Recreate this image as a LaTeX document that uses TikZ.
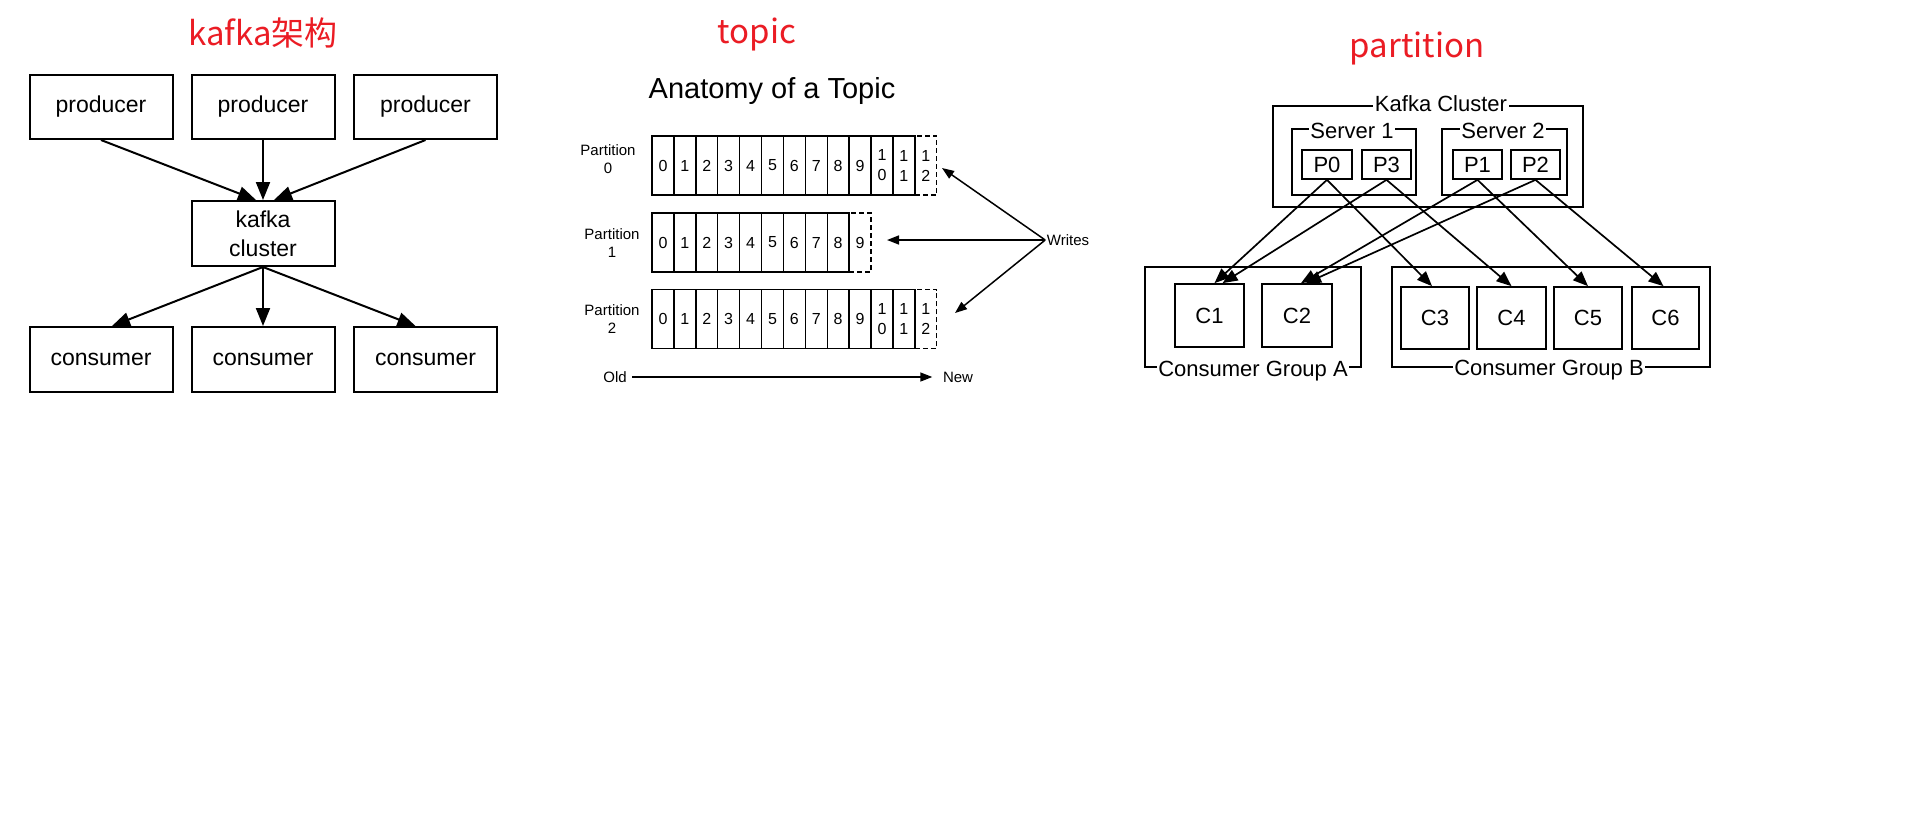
\documentclass[tikz,border=0pt]{standalone}
\usepackage{fontspec}
\setmainfont{Liberation Sans}
\newfontfamily\cjk{Noto Sans CJK SC}
\usetikzlibrary{arrows.meta}
\definecolor{titlered}{RGB}{235,28,36}
\begin{document}
\begin{tikzpicture}[x=1pt,y=-1pt,
  title/.style={font=\cjk\fontsize{33}{36}\selectfont, text=titlered, anchor=base, inner sep=0pt},
  bigbox/.style={draw, line width=2pt, minimum width=143pt, minimum height=64pt, inner sep=0pt, font=\fontsize{23}{29}\selectfont, align=center},
  bigarrow/.style={line width=2pt, -{Triangle[length=18pt,width=14pt]}},
  cell/.style={draw, line width=1.4pt, minimum width=21.9pt, minimum height=59pt, inner sep=0pt, font=\fontsize{16}{20}\selectfont, align=center},
  dcell/.style={cell, dash pattern=on 5pt off 3pt},
  tlabel/.style={font=\fontsize{15}{18}\selectfont, align=center, inner sep=1.5pt},
  tarrow/.style={line width=1.5pt, -{Triangle[length=12pt,width=9pt]}},
  pbox/.style={draw, line width=1.7pt, inner sep=0pt, font=\fontsize{22}{26}\selectfont},
  onlinelbl/.style={fill=white, inner xsep=1.5pt, inner ysep=0pt, anchor=base, font=\fontsize{22}{26}\selectfont},
  parrow/.style={line width=1.7pt, -{Triangle[length=15pt,width=12pt]}}
]
\fill[white] (0,0) rectangle (1914,817);
\useasboundingbox (0,0) rectangle (1914,817);

% ---------- titles ----------
\node[title] (t1) at (263,45) {kafka架构};
\node[title] (t2) at (757,43) {topic};
\node[title] (t3) at (1417,57) {partition};

% ---------- kafka architecture ----------
\node[bigbox] (prod1) at (101,107) {producer};
\node[bigbox] (prod2) at (263,107) {producer};
\node[bigbox] (prod3) at (425.5,107) {producer};
\node[bigbox, minimum height=65pt] (kafka) at (263,233.5) {kafka\\cluster};
\node[bigbox, minimum height=65pt] (cons1) at (101,359.5) {consumer};
\node[bigbox, minimum height=65pt] (cons2) at (263,359.5) {consumer};
\node[bigbox, minimum height=65pt] (cons3) at (425.5,359.5) {consumer};
\draw[bigarrow] (prod1.south) -- ([xshift=-7pt]kafka.north);
\draw[bigarrow] (prod2.south) -- (kafka.north);
\draw[bigarrow] (prod3.south) -- ([xshift=11pt]kafka.north);
\draw[bigarrow] (kafka.south) -- ([xshift=11pt]cons1.north);
\draw[bigarrow] (kafka.south) -- (cons2.north);
\draw[bigarrow] (kafka.south) -- ([xshift=-10pt]cons3.north);

% ---------- topic ----------
\node[font=\fontsize{29}{34}\selectfont, anchor=base, inner sep=0pt] (anat) at (772,98) {Anatomy of a Topic};

\foreach \i/\t in {0/0,1/1,2/2,3/3,4/4,5/5,6/6,7/7,8/8,9/9,10/{1\\0},11/{1\\1}}{
  \node[cell] (p0c\i) at ({662.95+21.9*\i},165.5) {\t};
  \node[cell] (p2c\i) at ({662.95+21.9*\i},319) {\t};
}
\node[dcell] (p0c12) at ({662.95+21.9*12},165.5) {1\\2};
\node[dcell] (p2c12) at ({662.95+21.9*12},319) {1\\2};
\foreach \i in {0,...,8}{
  \node[cell] (p1c\i) at ({662.95+21.9*\i},242.5) {\i};
}
\node[dcell] (p1c9) at ({662.95+21.9*9},242.5) {9};

\node[tlabel] (pl0) at (608,159) {Partition\\0};
\node[tlabel] (pl1) at (612,243) {Partition\\1};
\node[tlabel] (pl2) at (612,319) {Partition\\2};

\node[tlabel] (writes) at (1068,240) {Writes};
\coordinate (w0) at (942,168);
\coordinate (w1) at (887,240);
\coordinate (w2) at (955,313);
\draw[tarrow] (writes.west) -- (w0);
\draw[tarrow] (writes.west) -- (w1);
\draw[tarrow] (writes.west) -- (w2);

\node[tlabel] (old) at (615,377) {Old};
\node[tlabel] (new) at (958,377) {New};
\draw[tarrow] ([xshift=4pt]old.east) -- ([xshift=-9pt]new.west);

% ---------- partition ----------
\node[pbox, minimum width=310pt, minimum height=101pt] (kc) at (1428,156.5) {};
\node[pbox, minimum width=124pt, minimum height=66pt] (s1) at (1354,162) {};
\node[pbox, minimum width=125pt, minimum height=66pt] (s2) at (1504.5,162) {};
\node[pbox, minimum width=50pt, minimum height=29pt] (P0) at (1327,164.5) {P0};
\node[pbox, minimum width=49pt, minimum height=29pt] (P3) at (1386.5,164.5) {P3};
\node[pbox, minimum width=49pt, minimum height=29pt] (P1) at (1477.5,164.5) {P1};
\node[pbox, minimum width=49pt, minimum height=29pt] (P2) at (1535.5,164.5) {P2};

\node[pbox, minimum width=216pt, minimum height=100pt] (gA) at (1253,317) {};
\node[pbox, minimum width=318pt, minimum height=100pt] (gB) at (1551,317) {};
\node[pbox, minimum width=69pt, minimum height=63pt] (C1) at (1209.5,315.5) {C1};
\node[pbox, minimum width=70pt, minimum height=63pt] (C2) at (1297,315.5) {C2};
\node[pbox, minimum width=68pt, minimum height=62pt] (C3) at (1435,318) {C3};
\node[pbox, minimum width=69pt, minimum height=62pt] (C4) at (1511.5,318) {C4};
\node[pbox, minimum width=68pt, minimum height=62pt] (C5) at (1588,318) {C5};
\node[pbox, minimum width=67pt, minimum height=62pt] (C6) at (1665.5,318) {C6};

\node[onlinelbl, yshift=-6pt] (kcl) at ([xshift=13pt]kc.north) {Kafka Cluster};
\node[onlinelbl, yshift=-10pt] (s1l) at ([xshift=-2pt]s1.north) {Server 1};
\node[onlinelbl, yshift=-10pt] (s2l) at ([xshift=-1.5pt]s2.north) {Server 2};
\node[onlinelbl, yshift=-9pt] (gAl) at (gA.south) {Consumer Group A};
\node[onlinelbl, yshift=-8pt] (gBl) at ([xshift=-2pt]gB.south) {Consumer Group B};

\draw[parrow] (P0.south) -- ([xshift=5pt]C1.north);
\draw[parrow] (P3.south) -- ([xshift=13pt]C1.north);
\draw[parrow] (P1.south) -- ([xshift=4pt]C2.north);
\draw[parrow] (P2.south) -- ([xshift=9pt]C2.north);
\draw[parrow] (P0.south) -- ([xshift=-3pt]C3.north);
\draw[parrow] (P3.south) -- (C4.north);
\draw[parrow] (P1.south) -- (C5.north);
\draw[parrow] (P2.south) -- ([xshift=-2pt]C6.north);
\end{tikzpicture}
\end{document}
